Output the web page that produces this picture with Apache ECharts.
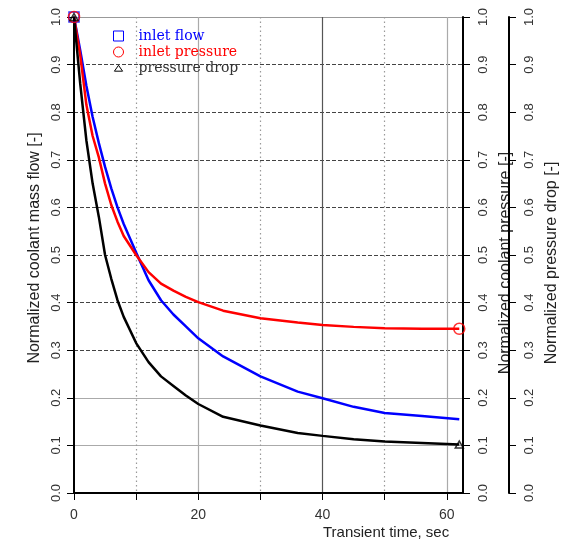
<!DOCTYPE html>
<html>
<head>
<meta charset="utf-8">
<script src="https://cdn.jsdelivr.net/npm/echarts@6/dist/echarts.min.js"></script>
<style>
html,body{margin:0;padding:0;background:#fff;}
#chart{width:561px;height:542px;}
</style>
</head>
<body>
<div id="chart"></div>
<script>
// ---- data ----
const times = [0, 1, 2, 3, 4, 5, 6, 7, 8, 10, 12, 14, 16, 18, 20, 24, 30, 36, 40, 45, 50, 56, 62];
const inletFlow = [1.00, 0.93, 0.855, 0.79, 0.735, 0.685, 0.64, 0.60, 0.565, 0.505, 0.447, 0.405, 0.375, 0.35, 0.325, 0.287, 0.245, 0.213, 0.199, 0.181, 0.168, 0.162, 0.155];
const inletPressure = [1.00, 0.92, 0.815, 0.75, 0.705, 0.65, 0.605, 0.57, 0.54, 0.50, 0.464, 0.44, 0.425, 0.412, 0.401, 0.383, 0.367, 0.358, 0.353, 0.349, 0.346, 0.345, 0.345];
const pressureDrop = [1.00, 0.86, 0.74, 0.65, 0.58, 0.50, 0.45, 0.405, 0.37, 0.315, 0.275, 0.245, 0.225, 0.205, 0.187, 0.160, 0.142, 0.126, 0.120, 0.113, 0.108, 0.105, 0.102];
const seriesNames = ['inlet flow', 'inlet pressure', 'pressure drop'];
const xTitle = 'Transient time, sec';
const yTitleLeft = 'Normalized coolant mass flow [-]';
const yTitleRight1 = 'Normalized coolant pressure [-]';
const yTitleRight2 = 'Normalized pressure drop [-]';

const pairs = (xs, ys) => xs.map((x, i) => [x, ys[i]]);
const last = a => a[a.length - 1];

const chart = echarts.init(document.getElementById('chart'), null, {renderer: 'canvas'});
const labelFont = 'Liberation Sans';

function rightAxis(offset, name, gap, splitColors) {
  return {
    type: 'value', position: 'right', offset: offset, min: 0, max: 1, interval: 0.1,
    axisLine: {show: true, onZero: false, lineStyle: {color: '#000', width: 2}},
    axisTick: {show: true, length: 7, lineStyle: {color: '#000', width: 1}},
    axisLabel: {show: true, rotate: 90, margin: 14, fontSize: 13, fontFamily: labelFont, color: '#333',
      formatter: v => v.toFixed(1)},
    splitLine: splitColors ? {show: true, lineStyle: {type: 'solid', width: 1, color: splitColors}} : {show: false},
    name: name, nameLocation: 'middle', nameRotate: 90, nameGap: gap,
    nameTextStyle: {fontSize: 16, fontFamily: labelFont, color: '#222', padding: [0, 16, 0, 0]}
  };
}

const T = 'rgba(0,0,0,0)';
const option = {
  animation: false,
  backgroundColor: '#fff',
  grid: {left: 74, top: 17, width: 389, height: 476, containLabel: false, outerBoundsMode: 'none'},
  legend: {
    show: true, orient: 'vertical', left: 113, top: 29, padding: 0, itemWidth: 30, itemHeight: 10, itemGap: 2,
    selectedMode: false,
    textStyle: {fontFamily: 'DejaVu Serif', fontSize: 14, lineHeight: 14},
    data: [
      {name: seriesNames[0], icon: 'path://M0,0L10,0L10,10L0,10Z',
        itemStyle: {color: T, borderColor: '#0000ff', borderWidth: 1}, textStyle: {color: '#0000ff'}},
      {name: seriesNames[1], icon: 'path://M0,5A5,5,0,1,1,10,5A5,5,0,1,1,0,5Z',
        itemStyle: {color: T, borderColor: '#ff0000', borderWidth: 1}, textStyle: {color: '#ff0000'}},
      {name: seriesNames[2], icon: 'path://M0,0L0,0M11,11L11,11M5.5,2.5L10,9L1,9Z',
        itemStyle: {color: T, borderColor: '#000', borderWidth: 1}, textStyle: {color: '#333'}}
    ]
  },
  graphic: [{
    type: 'text', left: 323, top: 525,
    style: {text: xTitle, font: '15px "Liberation Sans"', fill: '#222'}
  }],
  xAxis: [
    {
      type: 'value', position: 'bottom', min: 0, max: 62.6, interval: 10,
      axisLine: {show: true, onZero: false, lineStyle: {color: '#000', width: 2}},
      axisTick: {show: true, length: 7, lineStyle: {color: '#000', width: 1}},
      axisLabel: {show: true, margin: 15, fontSize: 14, fontFamily: labelFont, color: '#333',
        formatter: v => (Math.abs(v % 20) < 1e-9 ? String(v) : ''), showMaxLabel: false},
      splitLine: {show: true, lineStyle: {type: [1.5, 3], width: 1.2,
        color: [T, '#999', T, '#999', T, '#999', T, T]}}
    },
    {
      type: 'value', position: 'top', min: 0, max: 62.6, interval: 20,
      axisLine: {show: false}, axisTick: {show: false}, axisLabel: {show: false},
      splitLine: {show: true, lineStyle: {type: 'solid', width: 1.2,
        color: [T, '#aaa', '#555', '#aaa', T]}}
    }
  ],
  yAxis: [
    {
      type: 'value', position: 'left', min: 0, max: 1, interval: 0.1,
      axisLine: {show: true, onZero: false, lineStyle: {color: '#000', width: 2}},
      axisTick: {show: true, length: 7, lineStyle: {color: '#000', width: 1}},
      axisLabel: {show: true, rotate: 90, margin: 11, fontSize: 13, fontFamily: labelFont, color: '#333',
        formatter: v => v.toFixed(1)},
      splitLine: {show: true, lineStyle: {type: [4, 2], width: 1,
        color: [T, T, T, '#444', '#444', '#444', '#444', '#444', '#444', '#444', T]}},
      name: yTitleLeft, nameLocation: 'middle', nameRotate: 90, nameGap: 26,
      nameTextStyle: {fontSize: 16, fontFamily: labelFont, color: '#222', padding: [0, 0, 0, 14]}
    },
    rightAxis(0, yTitleRight1, 35, [T, '#aaa', '#aaa', T, T, T, T, T, T, T, '#999']),
    rightAxis(46, yTitleRight2, 33, null)
  ],
  series: [
    {name: seriesNames[0], type: 'line', xAxisIndex: 0, yAxisIndex: 0, data: pairs(times, inletFlow),
      showSymbol: false, symbol: 'none', clip: false, z: 3,
      lineStyle: {color: '#0000ff', width: 2.5}, itemStyle: {color: '#0000ff'}},
    {name: seriesNames[1], type: 'line', xAxisIndex: 0, yAxisIndex: 0, data: pairs(times, inletPressure),
      showSymbol: false, symbol: 'none', clip: false, z: 4,
      lineStyle: {color: '#ff0000', width: 2.5}, itemStyle: {color: '#ff0000'}},
    {name: seriesNames[2], type: 'line', xAxisIndex: 0, yAxisIndex: 0, data: pairs(times, pressureDrop),
      showSymbol: false, symbol: 'none', clip: false, z: 5,
      lineStyle: {color: '#000', width: 2.5}, itemStyle: {color: '#000'}},
    {name: 'flow markers', type: 'scatter', xAxisIndex: 0, yAxisIndex: 0, clip: false, z: 6,
      symbol: 'rect', symbolSize: 10,
      data: [[times[0], inletFlow[0]]],
      itemStyle: {color: T, borderColor: '#0000ff', borderWidth: 1.5}},
    {name: 'pressure markers', type: 'scatter', xAxisIndex: 0, yAxisIndex: 0, clip: false, z: 7,
      symbol: 'circle', symbolSize: 11,
      data: [[times[0], inletPressure[0]], [last(times), last(inletPressure)]],
      itemStyle: {color: T, borderColor: '#ff0000', borderWidth: 1.5}},
    {name: 'drop markers', type: 'scatter', xAxisIndex: 0, yAxisIndex: 0, clip: false, z: 8,
      symbol: 'triangle', symbolSize: [8, 7],
      data: [[times[0], pressureDrop[0]], [last(times), last(pressureDrop)]],
      itemStyle: {color: T, borderColor: '#000', borderWidth: 1.5}}
  ]
};
chart.setOption(option);
</script>
</body>
</html>
